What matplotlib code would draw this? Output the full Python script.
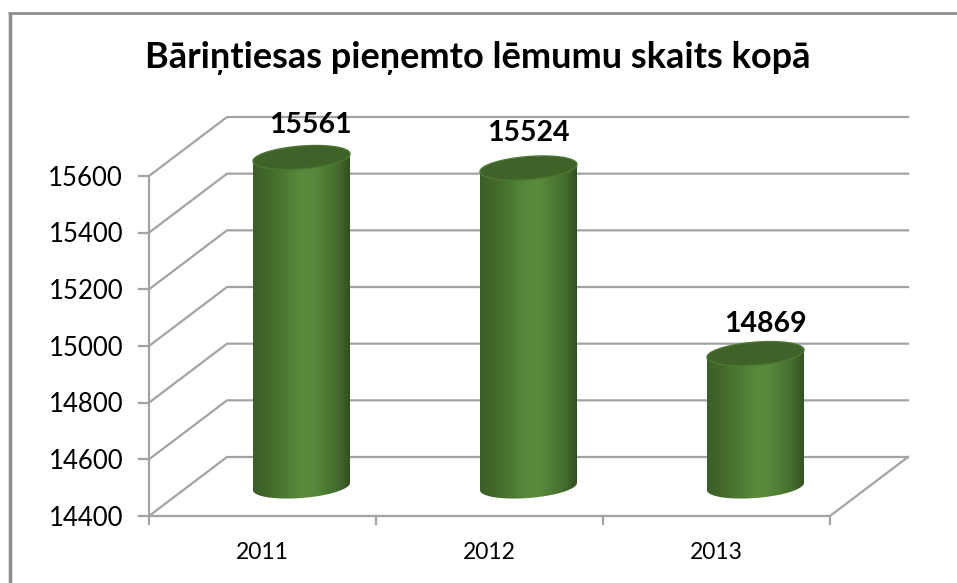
import numpy as np
import matplotlib
matplotlib.use('Agg')
import matplotlib.pyplot as plt
from matplotlib.patches import PathPatch
from matplotlib.path import Path
from matplotlib.colors import LinearSegmentedColormap
from matplotlib.lines import Line2D

years = ['2011', '2012', '2013']
values = [15561, 15524, 14869]
y_ticks = [14400, 14600, 14800, 15000, 15200, 15400, 15600]
title = 'Bāriņtiesas pieņemto lēmumu skaits kopā'

W, H = 957, 583
plt.rcParams['font.family'] = ['Lato', 'DejaVu Sans']

fig = plt.figure(figsize=(W / 100, H / 100), dpi=100)
# front plane of the fake 3d box
left, right, bottom, top = 149, 830, 516, 176
ax = fig.add_axes([left / W, 1 - bottom / H, (right - left) / W, (bottom - top) / H])
ax.axis('off')
ymin, ymax = y_ticks[0], y_ticks[-1]
px_x = len(years) / (right - left)
px_y = (ymax - ymin) / (bottom - top)
depth_x = 78 * px_x
depth_y = 59 * px_y
grid = '#a3a3a3'

for t in y_ticks:
    ax.plot([0, depth_x, len(years) + depth_x], [t, t + depth_y, t + depth_y],
            color=grid, lw=1.6, clip_on=False, zorder=1, solid_joinstyle='miter')
    ax.plot([-10 * px_x, 0], [t, t], color=grid, lw=1.6, clip_on=False, zorder=1)
    ax.text(-26 * px_x, t - 2 * px_y, str(t), ha='right', va='center', fontsize=18.5,
            color='black')

# floor and axes
ax.plot([0, len(years), len(years) + depth_x], [ymin, ymin, ymin + depth_y],
        color=grid, lw=1.6, clip_on=False, zorder=1)
ax.plot([0, 0], [ymin - 8 * px_y, ymax], color=grid, lw=1.6, clip_on=False, zorder=1)
for i in range(1, len(years) + 1):
    ax.plot([i, i], [ymin - 8 * px_y, ymin], color=grid, lw=1.6, clip_on=False, zorder=1)

body_cmap = LinearSegmentedColormap.from_list('body', [
    (0.0, '#3b5f27'), (0.15, '#42692b'), (0.5, '#598a3c'), (0.62, '#598a3c'),
    (0.88, '#446c2d'), (1.0, '#334f20')])
grad = np.linspace(0, 1, 200).reshape(1, -1)

half_w = 48.5
half_h = 11.5
shear = 0.075
t_arc = np.linspace(0, 2 * np.pi, 160)
# labels are not centred on the bars in the original, nudged by hand
label_dx = [9, 0, 10]
label_dy = [33, 35, 30]

for i, (year, val) in enumerate(zip(years, values)):
    cx = i + 0.5 + depth_x / 2
    base = ymin + depth_y / 2
    top_v = val + depth_y / 2
    ex = half_w * np.cos(t_arc)
    ey = half_h * np.sin(t_arc) + shear * ex

    # side of the cylinder: lower half of the base ellipse, then up to the top
    low = t_arc > np.pi
    xs = cx + ex[low] * px_x
    ys = base + ey[low] * px_y
    verts = np.column_stack([xs, ys])
    verts = np.vstack([verts,
                       [cx + half_w * px_x, top_v + shear * half_w * px_y],
                       [cx - half_w * px_x, top_v - shear * half_w * px_y],
                       verts[0]])
    body = PathPatch(Path(verts), transform=ax.transData, fc='none', ec='none')
    ax.add_patch(body)
    im = ax.imshow(grad, cmap=body_cmap, aspect='auto', zorder=2,
                   extent=[cx - half_w * px_x, cx + half_w * px_x, ymin, ymax + depth_y],
                   interpolation='bilinear')
    im.set_clip_path(body)
    im.set_clip_box(fig.bbox)

    # lid
    ax.fill(cx + ex * px_x, top_v + ey * px_y, fc='#3f6229', ec='#4c7733', lw=1.0,
            zorder=3, clip_on=False)
    ax.text(cx + label_dx[i] * px_x, top_v + label_dy[i] * px_y, str(val), ha='center',
            va='center', fontsize=20.5, fontweight='bold', color='black', zorder=5)
    ax.text(i + 0.5, ymin - 36 * px_y, year, ha='center', va='center',
            fontsize=16.5, color='black')

ax.set_xlim(0, len(years))
ax.set_ylim(ymin, ymax)

fig.text(478 / W, 1 - 58 / H, title, ha='center', va='center', fontsize=26,
         fontweight='bold', color='black')

# outer frame: only top and left show up
fig.add_artist(Line2D([9.5 / W, 9.5 / W], [0, 1 - 12.5 / H], color='#8c8c8c', lw=2.5,
                      solid_capstyle='butt'))
fig.add_artist(Line2D([8 / W, 1], [1 - 12.5 / H, 1 - 12.5 / H], color='#8c8c8c', lw=2,
                      solid_capstyle='butt'))

fig.savefig('out.png', dpi=100)
